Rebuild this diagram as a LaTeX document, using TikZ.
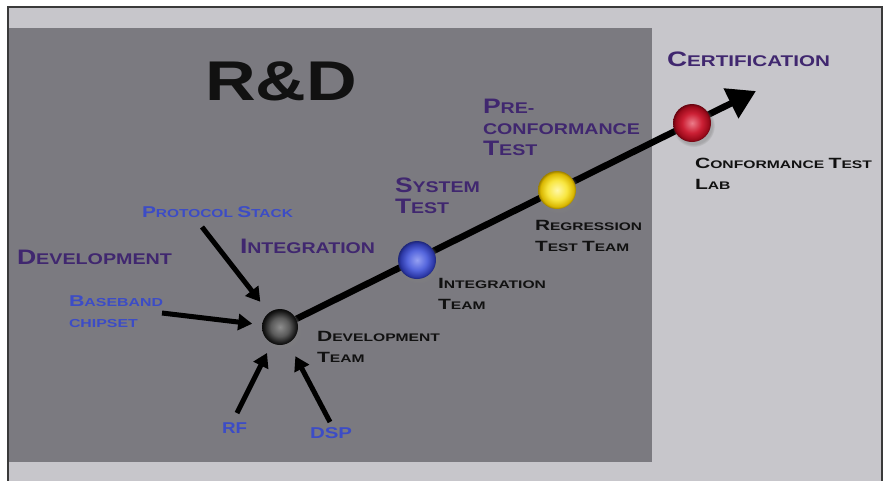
\documentclass[tikz,border=0pt]{standalone}
\usepackage{fontspec}
\setmainfont{Liberation Sans}
\usepackage{graphicx}
\usetikzlibrary{arrows.meta,shadows}

\definecolor{bglight}{HTML}{C7C6CB}
\definecolor{bgdark}{HTML}{7B7A80}
\definecolor{framecol}{HTML}{3A3A3A}
\definecolor{purp}{HTML}{40276F}
\definecolor{blu}{HTML}{3C4CC6}
\definecolor{txtblack}{HTML}{111111}

\definecolor{kA}{HTML}{8E8E8E}\definecolor{kB}{HTML}{5A5A5A}\definecolor{kC}{HTML}{1A1A1A}\definecolor{kD}{HTML}{0A0A0A}
\definecolor{bA}{HTML}{95A0F2}\definecolor{bB}{HTML}{5566DD}\definecolor{bC}{HTML}{2C38A6}\definecolor{bD}{HTML}{1E2678}
\definecolor{yA}{HTML}{FFF8A8}\definecolor{yB}{HTML}{F8E640}\definecolor{yC}{HTML}{D9B600}\definecolor{yD}{HTML}{9A7E00}
\definecolor{rA}{HTML}{EC7C8A}\definecolor{rB}{HTML}{CC2035}\definecolor{rC}{HTML}{9A0A1A}\definecolor{rD}{HTML}{640410}

\pgfdeclareradialshading{sphblack}{\pgfpoint{0bp}{0bp}}{color(0bp)=(kA); color(13bp)=(kB); color(22bp)=(kC); color(25bp)=(kD); color(50bp)=(kD)}
\pgfdeclareradialshading{sphblue}{\pgfpoint{0bp}{0bp}}{color(0bp)=(bA); color(13bp)=(bB); color(22bp)=(bC); color(25bp)=(bD); color(50bp)=(bD)}
\pgfdeclareradialshading{sphyellow}{\pgfpoint{0bp}{0bp}}{color(0bp)=(yA); color(13bp)=(yB); color(22bp)=(yC); color(25bp)=(yD); color(50bp)=(yD)}
\pgfdeclareradialshading{sphred}{\pgfpoint{0bp}{0bp}}{color(0bp)=(rA); color(13bp)=(rB); color(22bp)=(rC); color(25bp)=(rD); color(50bp)=(rD)}

\newsavebox\fitbox
\newcommand\fitw[2]{\sbox\fitbox{#2}\edef\fitsc{\fpeval{(#1)/(\the\wd\fitbox)}}\scalebox{\fitsc}[1]{\usebox\fitbox}}
\newcommand\BigL[1]{\scalebox{1.35}{#1}}
\newcommand\lns[1]{\begin{tabular}[t]{@{}l@{}}#1\end{tabular}}

\pgfdeclarelayer{back}
\pgfdeclarelayer{mid}
\pgfsetlayers{back,mid,main}

\tikzset{
  lab/.style={inner sep=0pt, outer sep=0pt, anchor=base west},
  purplab/.style={lab, text=purp, font=\bfseries\fontsize{15.5}{21}\selectfont},
  blulab/.style={lab, text=blu, font=\bfseries\fontsize{11.6}{21}\selectfont},
  blklab/.style={lab, text=txtblack, font=\bfseries\fontsize{11}{21}\selectfont},
  sph/.style={circle, inner sep=0pt, outer sep=0pt, minimum size=38pt, shade,
    circular drop shadow={shadow xshift=1.5pt, shadow yshift=-2.5pt, opacity=.45, shadow scale=1.12}},
  mainline/.style={draw=black, line width=6.5pt, -{Triangle[length=28pt,width=32pt]}},
  inarrow/.style={draw=black, line width=5pt, -{Triangle[length=14pt,width=16pt]}}
}

\begin{document}
\begin{tikzpicture}[x=1pt,y=-1pt]
\useasboundingbox (0,0) rectangle (883,480);
\begin{pgfonlayer}{back}
  \fill[white] (0,0) rectangle (883,480);
  \fill[bglight] (8,7) rectangle (882,481);
  \fill[bgdark] (9,28) rectangle (652,462);
  \draw[framecol, line width=2pt] (8,481) -- (8,7) -- (882,7) -- (882,481);
\end{pgfonlayer}

% title
\node[lab, text=txtblack, font=\bfseries\fontsize{56}{60}\selectfont] (rd) at (205,100) {\fitw{152}{R\&D}};

% spheres
\node[sph, shading=sphblack, minimum size=36pt] (dev) at (280,327) {};
\node[sph, shading=sphblue] (integ) at (417,260) {};
\node[sph, shading=sphyellow] (regr) at (557,190) {};
\node[sph, shading=sphred] (conf) at (692,123) {};
\coordinate (tip) at (756,91);

% input arrow start points
\coordinate (psS) at (202,227);
\coordinate (bbS) at (162,313);
\coordinate (rfS) at (237,413);
\coordinate (dspS) at (330,422);

% purple stage labels
\node[purplab] (lDevel) at (17,264) {\fitw{155}{\BigL{D}EVELOPMENT}};
\node[purplab] (lInteg) at (240,253) {\fitw{135}{\BigL{I}NTEGRATION}};
\node[purplab] (lSys) at (395,192) {\fitw{85}{\lns{\BigL{S}YSTEM\\\BigL{T}EST}}};
\node[purplab] (lPre) at (483,113) {\fitw{157}{\lns{\BigL{P}RE-\\CONFORMANCE\\\BigL{T}EST}}};
\node[purplab] (lCert) at (667,66) {\fitw{163}{\BigL{C}ERTIFICATION}};

% blue input labels
\node[blulab] (lPS) at (142,217) {\fitw{151}{\BigL{P}ROTOCOL \BigL{S}TACK}};
\node[blulab] (lBB) at (69,306) {\fitw{94}{\lns{\BigL{B}ASEBAND\\CHIPSET}}};
\node[blulab] (lRF) at (222,433) {\fitw{25}{\BigL{RF}}};
\node[blulab] (lDSP) at (310,438) {\fitw{42}{\BigL{DSP}}};

% black team labels
\node[blklab] (tDev) at (317,341) {\fitw{123}{\lns{\BigL{D}EVELOPMENT\\\BigL{T}EAM}}};
\node[blklab] (tInt) at (438,288) {\fitw{108}{\lns{\BigL{I}NTEGRATION\\\BigL{T}EAM}}};
\node[blklab] (tReg) at (535,230) {\fitw{107}{\lns{\BigL{R}EGRESSION\\\BigL{T}EST \BigL{T}EAM}}};
\node[blklab] (tConf) at (695,168) {\fitw{177}{\lns{\BigL{C}ONFORMANCE \BigL{T}EST\\\BigL{L}AB}}};

\begin{pgfonlayer}{mid}
  \draw[mainline] (dev) -- (tip);
\end{pgfonlayer}
\draw[inarrow, shorten >=14pt] (psS) -- (dev);
\draw[inarrow, shorten >=10pt] (bbS) -- (dev);
\draw[inarrow, shorten >=11pt] (rfS) -- (dev);
\draw[inarrow, shorten >=15pt] (dspS) -- (dev);
\end{tikzpicture}
\end{document}
